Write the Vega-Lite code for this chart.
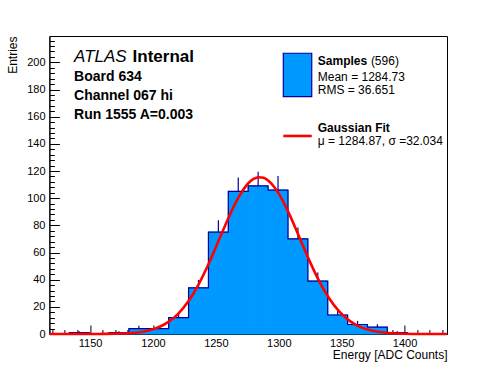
{
  "$schema": "https://vega.github.io/schema/vega-lite/v6.json",
  "autosize": "none",
  "width": 397.6,
  "height": 298,
  "padding": {"left": 49.4, "top": 36, "right": 49, "bottom": 38},
  "background": "white",
  "config": {
    "view": {"stroke": "black", "strokeWidth": 1},
    "axis": {"labelFont": "Liberation Sans", "titleFont": "Liberation Sans", "labelColor": "black", "titleColor": "black", "domainColor": "black", "tickColor": "black", "grid": false, "titleFontWeight": "normal", "domainWidth": 1, "tickWidth": 1},
    "text": {"font": "Liberation Sans"}
  },
  "datasets": {
    "bins": [
      {"lo": 1117.7, "hi": 1133.5, "c": 1125.6, "n": 0, "top": 0},
      {"lo": 1133.5, "hi": 1149.3, "c": 1141.4, "n": 1, "top": 2},
      {"lo": 1149.3, "hi": 1165.1, "c": 1157.2, "n": 0, "top": 0},
      {"lo": 1165.1, "hi": 1180.9, "c": 1173.0, "n": 1, "top": 2},
      {"lo": 1180.9, "hi": 1196.7, "c": 1188.8, "n": 4, "top": 6},
      {"lo": 1196.7, "hi": 1212.5, "c": 1204.6, "n": 4, "top": 6},
      {"lo": 1212.5, "hi": 1228.3, "c": 1220.4, "n": 12, "top": 15.46},
      {"lo": 1228.3, "hi": 1244.1, "c": 1236.2, "n": 34, "top": 39.83},
      {"lo": 1244.1, "hi": 1259.9, "c": 1252.0, "n": 75, "top": 83.66},
      {"lo": 1259.9, "hi": 1275.7, "c": 1267.8, "n": 105, "top": 115.25},
      {"lo": 1275.7, "hi": 1291.5, "c": 1283.6, "n": 109, "top": 119.44},
      {"lo": 1291.5, "hi": 1307.3, "c": 1299.4, "n": 106, "top": 116.3},
      {"lo": 1307.3, "hi": 1323.1, "c": 1315.2, "n": 70, "top": 78.37},
      {"lo": 1323.1, "hi": 1338.9, "c": 1331.0, "n": 39, "top": 45.24},
      {"lo": 1338.9, "hi": 1354.7, "c": 1346.8, "n": 14, "top": 17.74},
      {"lo": 1354.7, "hi": 1370.5, "c": 1362.6, "n": 7, "top": 9.65},
      {"lo": 1370.5, "hi": 1386.3, "c": 1378.4, "n": 5, "top": 7.24},
      {"lo": 1386.3, "hi": 1402.1, "c": 1394.2, "n": 1, "top": 2},
      {"lo": 1402.1, "hi": 1417.9, "c": 1410.0, "n": 0, "top": 0},
      {"lo": 1417.9, "hi": 1433.7, "c": 1425.8, "n": 0, "top": 0}
    ],
    "fit": [
      {"x": 1118, "y": 0}, {"x": 1140, "y": 0.004}, {"x": 1160, "y": 0.06}, {"x": 1175, "y": 0.32},
      {"x": 1185, "y": 0.9}, {"x": 1195, "y": 2.26}, {"x": 1205, "y": 5.16}, {"x": 1212, "y": 8.69},
      {"x": 1220, "y": 14.86}, {"x": 1228, "y": 23.89}, {"x": 1236, "y": 36.07}, {"x": 1244, "y": 51.18},
      {"x": 1252, "y": 68.23}, {"x": 1260, "y": 85.45}, {"x": 1268, "y": 100.54}, {"x": 1276, "y": 111.16},
      {"x": 1280, "y": 114.17}, {"x": 1284, "y": 115.46}, {"x": 1288, "y": 114.95}, {"x": 1292, "y": 112.67},
      {"x": 1300, "y": 103.31}, {"x": 1308, "y": 89.0}, {"x": 1316, "y": 72.03}, {"x": 1324, "y": 54.77},
      {"x": 1332, "y": 39.13}, {"x": 1340, "y": 26.27}, {"x": 1348, "y": 16.57}, {"x": 1356, "y": 9.82},
      {"x": 1364, "y": 5.46}, {"x": 1372, "y": 2.86}, {"x": 1380, "y": 1.41}, {"x": 1390, "y": 0.53},
      {"x": 1400, "y": 0.18}, {"x": 1415, "y": 0.03}, {"x": 1433.5, "y": 0}
    ]
  },
  "resolve": {"axis": {"x": "independent", "y": "independent"}},
  "layer": [
    {
      "data": {"name": "bins"},
      "mark": {"type": "rect", "fill": "#0099ff", "stroke": "#0099ff", "strokeWidth": 1},
      "encoding": {
        "x": {"field": "lo", "type": "quantitative", "scale": {"domain": [1117.7, 1433.7], "nice": false, "zero": false},
          "axis": {"orient": "bottom", "values": [1150, 1200, 1250, 1300, 1350, 1400], "format": "d", "tickSize": -9, "labelPadding": 12.5, "labelFontSize": 11, "labelFlush": false, "labelOverlap": false,
            "title": "Energy [ADC Counts]", "titleFontSize": 12, "titleAlign": "right", "titleBaseline": "alphabetic", "titleX": 397.6, "titleY": 24.3}},
        "x2": {"field": "hi"},
        "y": {"field": "n", "type": "quantitative", "scale": {"domain": [0, 219.4], "nice": false, "zero": true},
          "axis": {"orient": "left", "values": [0, 20, 40, 60, 80, 100, 120, 140, 160, 180, 200], "format": "d", "tickSize": -10, "labelPadding": 14.4, "labelFontSize": 11,
            "title": "Entries", "titleFontSize": 12, "titleAngle": 270, "titleAlign": "right", "titleBaseline": "alphabetic", "titleX": -32.7, "titleY": 0}},
        "y2": {"datum": 0}
      }
    },
    {
      "data": {"name": "bins"},
      "mark": {"type": "line", "interpolate": "step-after", "color": "#000099", "strokeWidth": 1.2},
      "encoding": {
        "x": {"field": "lo", "type": "quantitative",
          "axis": {"orient": "bottom", "values": [1120, 1130, 1140, 1160, 1170, 1180, 1190, 1210, 1220, 1230, 1240, 1260, 1270, 1280, 1290, 1310, 1320, 1330, 1340, 1360, 1370, 1380, 1390, 1410, 1420, 1430], "tickSize": -4.5, "labels": false, "domain": false, "title": null}},
        "y": {"field": "n", "type": "quantitative",
          "axis": {"orient": "left", "values": [4, 8, 12, 16, 24, 28, 32, 36, 44, 48, 52, 56, 64, 68, 72, 76, 84, 88, 92, 96, 104, 108, 112, 116, 124, 128, 132, 136, 144, 148, 152, 156, 164, 168, 172, 176, 184, 188, 192, 196, 204, 208, 212, 216], "tickSize": -5, "labels": false, "domain": false, "title": null}}
      }
    },
    {
      "data": {"name": "bins"},
      "transform": [{"filter": "datum.n > 0"}],
      "mark": {"type": "rule", "color": "#000099", "strokeWidth": 1.2},
      "encoding": {
        "x": {"field": "c", "type": "quantitative", "axis": null},
        "y": {"field": "n", "type": "quantitative", "axis": null},
        "y2": {"field": "top"}
      }
    },
    {
      "data": {"name": "fit"},
      "mark": {"type": "line", "color": "#ff0000", "strokeWidth": 2.6, "interpolate": "monotone"},
      "encoding": {
        "x": {"field": "x", "type": "quantitative", "axis": null},
        "y": {"field": "y", "type": "quantitative", "axis": null}
      }
    },
    {
      "data": {"values": [{"x": 1303.6, "x2": 1326.2, "y": 206.7, "y2": 174.7}]},
      "mark": {"type": "rect", "fill": "#0099ff", "stroke": "#000099", "strokeWidth": 1.2},
      "encoding": {
        "x": {"field": "x", "type": "quantitative", "axis": null},
        "x2": {"field": "x2"},
        "y": {"field": "y", "type": "quantitative", "axis": null},
        "y2": {"field": "y2"}
      }
    },
    {
      "data": {"values": [{"x": 1303.6, "x2": 1326.2, "y": 145.8}]},
      "mark": {"type": "rule", "color": "#ff0000", "strokeWidth": 2.6},
      "encoding": {
        "x": {"field": "x", "type": "quantitative", "axis": null},
        "x2": {"field": "x2"},
        "y": {"field": "y", "type": "quantitative", "axis": null}
      }
    },
    {
      "data": {"values": [{"x": 1137.3, "y": 200.0, "t": "ATLAS"}]},
      "mark": {"type": "text", "align": "left", "baseline": "alphabetic", "fontSize": 17, "fontStyle": "italic", "color": "black"},
      "encoding": {
        "x": {"field": "x", "type": "quantitative", "axis": null},
        "y": {"field": "y", "type": "quantitative", "axis": null},
        "text": {"field": "t"}
      }
    },
    {
      "data": {"values": [{"x": 1183.8, "y": 200.0, "t": "Internal"}]},
      "mark": {"type": "text", "align": "left", "baseline": "alphabetic", "fontSize": 17, "fontWeight": "bold", "color": "black"},
      "encoding": {
        "x": {"field": "x", "type": "quantitative", "axis": null},
        "y": {"field": "y", "type": "quantitative", "axis": null},
        "text": {"field": "t"}
      }
    },
    {
      "data": {"values": [
        {"x": 1137.3, "y": 186.5, "t": "Board 634"},
        {"x": 1137.3, "y": 172.3, "t": "Channel 067 hi"},
        {"x": 1137.3, "y": 158.1, "t": "Run 1555 A=0.003"}
      ]},
      "mark": {"type": "text", "align": "left", "baseline": "alphabetic", "fontSize": 14, "fontWeight": "bold", "color": "black"},
      "encoding": {
        "x": {"field": "x", "type": "quantitative", "axis": null},
        "y": {"field": "y", "type": "quantitative", "axis": null},
        "text": {"field": "t"}
      }
    },
    {
      "data": {"values": [
        {"x": 1331.0, "y": 198.1, "t": "Samples"},
        {"x": 1331.0, "y": 148.4, "t": "Gaussian Fit"}
      ]},
      "mark": {"type": "text", "align": "left", "baseline": "alphabetic", "fontSize": 12, "fontWeight": "bold", "color": "black"},
      "encoding": {
        "x": {"field": "x", "type": "quantitative", "axis": null},
        "y": {"field": "y", "type": "quantitative", "axis": null},
        "text": {"field": "t"}
      }
    },
    {
      "data": {"values": [
        {"x": 1373.2, "y": 198.1, "t": "(596)"},
        {"x": 1331.0, "y": 186.5, "t": "Mean = 1284.73"},
        {"x": 1331.0, "y": 176.7, "t": "RMS = 36.651"},
        {"x": 1331.0, "y": 138.9, "t": "μ = 1284.87, σ =32.034"}
      ]},
      "mark": {"type": "text", "align": "left", "baseline": "alphabetic", "fontSize": 12, "color": "black"},
      "encoding": {
        "x": {"field": "x", "type": "quantitative", "axis": null},
        "y": {"field": "y", "type": "quantitative", "axis": null},
        "text": {"field": "t"}
      }
    }
  ]
}
